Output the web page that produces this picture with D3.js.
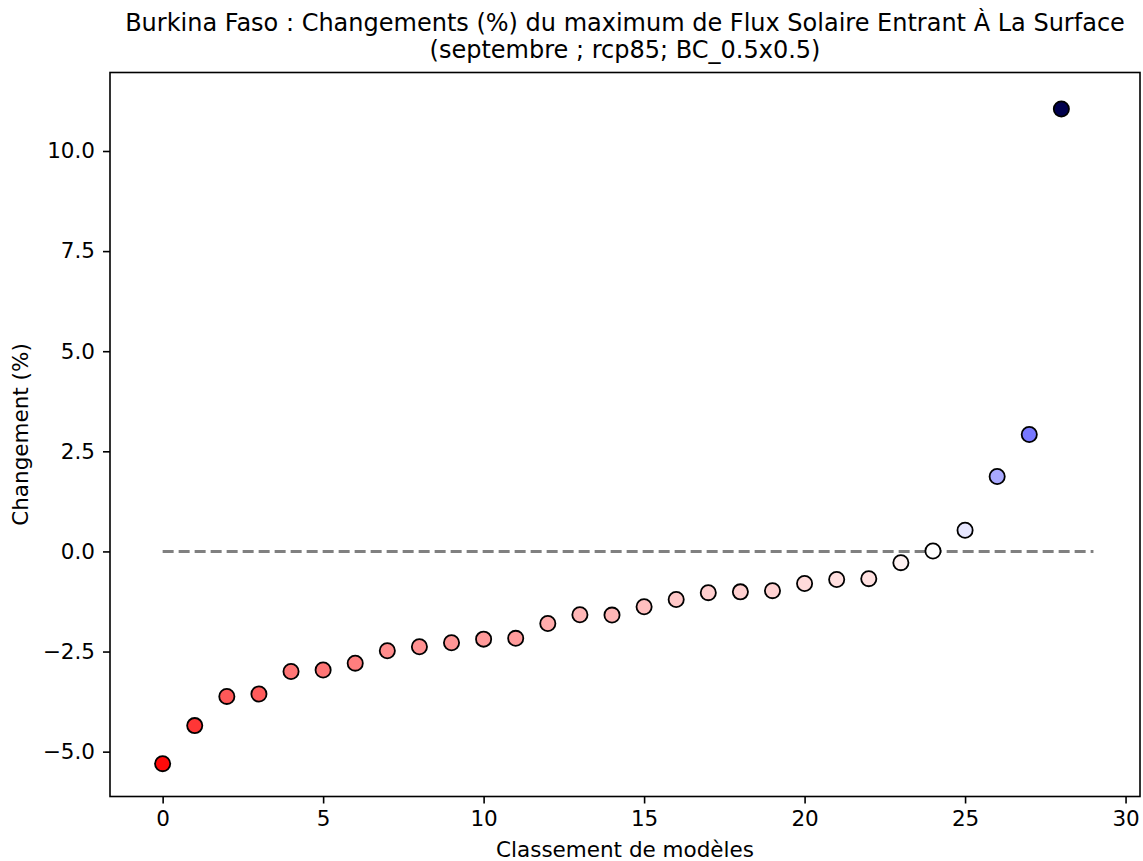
<!DOCTYPE html>
<html>
<head>
<meta charset="utf-8">
<script src="https://cdn.jsdelivr.net/npm/d3@7"></script>
<style>
  html, body { margin: 0; padding: 0; background: #fff; }
  text { font-family: "DejaVu Sans", sans-serif; fill: #000; }
</style>
</head>
<body>
<svg id="chart" width="1143" height="861"></svg>
<script>
// ---- data ----
const ranks = [0,1,2,3,4,5,6,7,8,9,10,11,12,13,14,15,16,17,18,19,20,21,22,23,24,25,26,27,28];
const changes = [-5.30,-4.35,-3.62,-3.56,-3.00,-2.96,-2.79,-2.48,-2.38,-2.28,-2.19,-2.17,-1.80,-1.58,-1.59,
                 -1.38,-1.20,-1.03,-1.01,-0.98,-0.80,-0.70,-0.68,-0.28,0.01,0.53,1.87,2.92,11.05];
const xTicks = [0,5,10,15,20,25,30];
const yTicks = [-5.0,-2.5,0.0,2.5,5.0,7.5,10.0];
const titleLines = ["Burkina Faso : Changements (%) du maximum de Flux Solaire Entrant À La Surface",
                    "(septembre ; rcp85; BC_0.5x0.5)"];
const xLabel = "Classement de modèles";
const yLabel = "Changement (%)";
const refLine = [0, 29];

// ---- layout ----
const svg = d3.select("#chart");
const L = 110, R = 1140, T = 72.5, B = 796.5;

const x = d3.scaleLinear().domain([-1.64, 30.45]).range([L, R]);
const y = d3.scaleLinear().domain([-6.12, 11.96]).range([B, T]);

const vmax = d3.max(changes, d => Math.abs(d));
const color = d3.scaleLinear()
  .domain([-vmax, -vmax/2, 0, vmax/2, vmax])
  .range(["#800000", "#ff0000", "#ffffff", "#0000ff", "#00004d"])
  .interpolate(d3.interpolateRgb);

// reference dashed line
svg.append("line")
  .attr("x1", x(refLine[0])).attr("x2", x(refLine[1]))
  .attr("y1", y(0)).attr("y2", y(0))
  .attr("stroke", "#808080").attr("stroke-width", 3)
  .attr("stroke-dasharray", "11,5");

// points
svg.append("g").selectAll("circle")
  .data(ranks)
  .join("circle")
  .attr("cx", d => x(d))
  .attr("cy", (d, i) => y(changes[i]))
  .attr("r", 7.6)
  .attr("fill", (d, i) => color(changes[i]))
  .attr("stroke", "#000").attr("stroke-width", 1.8);

// axes
const fmtY = d => d3.format(".1f")(d).replace("-", "\u2212");
const xAxis = d3.axisBottom(x).tickValues(xTicks).tickFormat(d3.format("d")).tickSize(7).tickPadding(7);
const yAxis = d3.axisLeft(y).tickValues(yTicks).tickFormat(fmtY).tickSize(7).tickPadding(8);

const gx = svg.append("g").attr("transform", `translate(0,${B})`).call(xAxis);
const gy = svg.append("g").attr("transform", `translate(${L},0)`).call(yAxis);
[gx, gy].forEach(g => {
  g.select(".domain").remove();
  g.selectAll(".tick line").attr("stroke", "#000").attr("stroke-width", 1.6);
  g.selectAll(".tick text").style("font-family", "DejaVu Sans").style("font-size", "21.5px").attr("fill", "#000");
});

// frame
svg.append("rect")
  .attr("x", L).attr("y", T).attr("width", R - L).attr("height", B - T)
  .attr("fill", "none").attr("stroke", "#000").attr("stroke-width", 1.6);

// titles
svg.append("text")
  .attr("x", (L + R) / 2).attr("y", 31)
  .attr("text-anchor", "middle").style("font-size", "24px")
  .text(titleLines[0]);
svg.append("text")
  .attr("x", (L + R) / 2).attr("y", 58)
  .attr("text-anchor", "middle").style("font-size", "24px")
  .text(titleLines[1]);

svg.append("text")
  .attr("x", (L + R) / 2).attr("y", 857)
  .attr("text-anchor", "middle").style("font-size", "21.5px")
  .text(xLabel);

svg.append("text")
  .attr("transform", `translate(28,${(T + B) / 2}) rotate(-90)`)
  .attr("text-anchor", "middle").style("font-size", "21.5px")
  .text(yLabel);
</script>
</body>
</html>
